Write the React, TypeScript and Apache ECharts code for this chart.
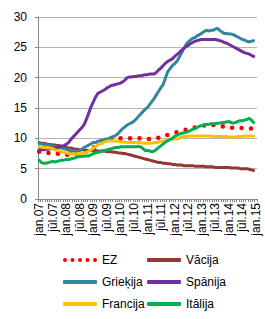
import React, { useEffect, useRef } from "react";
import * as echarts from "echarts";

// Monthly unemployment rates, %, jan.07 – dec.14 (axis runs to jan.15)
const monthNames = ["jan", "feb", "mar", "apr", "mai", "jūn", "jūl", "aug", "sep", "okt", "nov", "dec"];
const years = ["07", "08", "09", "10", "11", "12", "13", "14"];
const lastCategory = "jan.15";
const categories: string[] = [
  ...years.flatMap((y) => monthNames.map((m) => `${m}.${y}`)),
  lastCategory,
];

const yTicks = { min: 0, max: 30, step: 5 };

const ez = [
  7.8, 7.8, 7.7, 7.7, 7.6, 7.6, 7.5, 7.5, 7.5, 7.4, 7.4, 7.4,
  7.3, 7.3, 7.3, 7.3, 7.4, 7.5, 7.5, 7.6, 7.7, 7.8, 8.0, 8.2,
  8.4, 8.7, 9.0, 9.2, 9.4, 9.5, 9.6, 9.7, 9.8, 9.9, 10.0, 10.0,
  10.0, 10.0, 10.0, 10.0, 10.0, 10.0, 10.0, 10.0, 10.0, 10.0, 10.0, 9.9,
  9.9, 9.9, 9.9, 9.9, 10.0, 10.1, 10.2, 10.3, 10.4, 10.6, 10.7, 10.8,
  10.9, 11.0, 11.1, 11.2, 11.3, 11.4, 11.5, 11.6, 11.7, 11.8, 11.9, 12.0,
  12.0, 12.1, 12.2, 12.2, 12.2, 12.2, 12.2, 12.2, 12.1, 12.0, 11.9, 11.9,
  11.8, 11.8, 11.7, 11.7, 11.7, 11.7, 11.7, 11.7, 11.7, 11.7, 11.6, 11.6,
];

const vacija = [
  9.3, 9.2, 9.2, 9.1, 9.0, 9.0, 8.9, 8.9, 8.8, 8.8, 8.7, 8.6,
  8.5, 8.4, 8.4, 8.3, 8.2, 8.2, 8.1, 8.1, 8.1, 8.0, 8.0, 8.0,
  8.0, 8.0, 7.9, 7.9, 7.9, 7.9, 7.8, 7.8, 7.8, 7.7, 7.7, 7.6,
  7.6, 7.5, 7.5, 7.4, 7.3, 7.2, 7.1, 7.0, 6.9, 6.8, 6.7, 6.6,
  6.5, 6.4, 6.3, 6.2, 6.1, 6.0, 6.0, 5.9, 5.9, 5.8, 5.8, 5.7,
  5.7, 5.6, 5.6, 5.6, 5.5, 5.5, 5.5, 5.5, 5.5, 5.4, 5.4, 5.4,
  5.4, 5.4, 5.3, 5.3, 5.3, 5.3, 5.2, 5.2, 5.2, 5.2, 5.2, 5.2,
  5.2, 5.1, 5.1, 5.1, 5.1, 5.0, 5.0, 5.0, 5.0, 4.9, 4.8, 4.7,
];

const griekija = [
  9.2, 9.1, 9.0, 9.0, 8.9, 8.8, 8.7, 8.7, 8.6, 8.5, 8.4, 8.3,
  8.2, 8.1, 7.8, 7.9, 7.9, 7.9, 8.0, 8.2, 8.5, 8.7, 8.9, 9.1,
  9.3, 9.3, 9.5, 9.6, 9.7, 9.8, 9.9, 10.0, 10.2, 10.3, 10.5, 10.8,
  11.2, 11.6, 11.9, 12.2, 12.4, 12.6, 12.8, 13.2, 13.6, 14.0, 14.4, 14.8,
  15.1, 15.6, 16.1, 16.6, 17.2, 17.8, 18.4, 18.9, 20.0, 21.0, 21.5, 22.0,
  22.3, 22.7, 23.3, 24.0, 24.7, 25.4, 25.9, 26.2, 26.5, 26.6, 26.9, 27.1,
  27.3, 27.6, 27.8, 27.7, 27.8, 27.8, 28.0, 28.1, 27.8, 27.5, 27.3, 27.3,
  27.2, 27.2, 27.1, 26.9, 26.7, 26.5, 26.3, 26.2, 26.0, 25.9, 26.0, 26.1,
];

const spanija = [
  8.1, 8.1, 8.1, 8.2, 8.2, 8.3, 8.4, 8.4, 8.5, 8.6, 8.7, 8.8,
  9.0, 9.3, 9.8, 10.2, 10.6, 11.0, 11.4, 11.8, 12.3, 13.2, 14.2, 15.2,
  16.0, 16.8, 17.4, 17.6, 17.8, 18.0, 18.3, 18.5, 18.7, 18.8, 18.9, 19.0,
  19.1, 19.3, 19.6, 20.0, 20.1, 20.1, 20.2, 20.2, 20.3, 20.3, 20.4, 20.5,
  20.5, 20.6, 20.6, 20.6, 20.9, 21.3, 21.6, 22.0, 22.4, 22.7, 22.9, 23.1,
  23.5, 23.8, 24.1, 24.5, 24.8, 25.1, 25.3, 25.6, 25.8, 26.0, 26.1, 26.2,
  26.3, 26.3, 26.3, 26.3, 26.3, 26.3, 26.3, 26.2, 26.1, 26.0, 25.8, 25.7,
  25.5, 25.3, 25.1, 24.9, 24.7, 24.5, 24.3, 24.1, 24.0, 23.9, 23.7, 23.5,
];

const francija = [
  8.6, 8.6, 8.5, 8.5, 8.4, 8.4, 8.3, 8.1, 8.0, 7.9, 7.8, 7.7,
  7.6, 7.5, 7.4, 7.4, 7.4, 7.5, 7.5, 7.6, 7.6, 7.7, 7.9, 8.1,
  8.4, 8.7, 8.9, 9.1, 9.2, 9.4, 9.5, 9.6, 9.6, 9.6, 9.5, 9.5,
  9.4, 9.4, 9.4, 9.3, 9.3, 9.3, 9.3, 9.3, 9.3, 9.3, 9.2, 9.2,
  9.2, 9.2, 9.2, 9.3, 9.3, 9.4, 9.5, 9.5, 9.6, 9.7, 9.8, 9.9,
  9.9, 9.9, 10.0, 10.2, 10.3, 10.3, 10.4, 10.4, 10.4, 10.4, 10.4, 10.4,
  10.4, 10.4, 10.4, 10.4, 10.4, 10.3, 10.3, 10.3, 10.3, 10.3, 10.3, 10.3,
  10.2, 10.2, 10.2, 10.2, 10.3, 10.3, 10.3, 10.4, 10.4, 10.4, 10.4, 10.4,
];

const italija = [
  6.4, 6.0, 5.9, 5.9, 6.0, 6.1, 6.2, 6.1, 6.2, 6.3, 6.4, 6.4,
  6.5, 6.5, 6.6, 6.7, 6.8, 6.9, 7.0, 7.0, 7.1, 7.1, 7.1, 7.3,
  7.5, 7.6, 7.7, 7.8, 7.9, 8.0, 8.1, 8.2, 8.3, 8.4, 8.5, 8.5,
  8.6, 8.6, 8.6, 8.6, 8.6, 8.6, 8.6, 8.6, 8.7, 8.6, 8.3, 8.0,
  8.0, 7.9, 7.8, 7.9, 8.2, 8.5, 8.8, 9.1, 9.4, 9.6, 9.8, 10.0,
  10.3, 10.5, 10.7, 10.8, 10.9, 11.0, 11.1, 11.3, 11.5, 11.6, 11.8, 12.0,
  12.1, 12.2, 12.3, 12.3, 12.4, 12.4, 12.4, 12.5, 12.5, 12.6, 12.6, 12.7,
  12.8, 12.6, 12.5, 12.6, 12.8, 12.9, 12.9, 13.0, 13.1, 13.3, 13.0, 12.6,
];

const FONT = "'Liberation Sans', Arial, sans-serif";

const COLORS = {
  ez: "#FF0000",
  vacija: "#953735",
  griekija: "#31859C",
  spanija: "#7030A0",
  francija: "#FFC000",
  italija: "#00B050",
};

// Legend icon for the dotted EZ line: five small dots in a row
const dotCenters = [2, 9.5, 17, 24.5, 32];
const dotIcon =
  "path://" +
  dotCenters.map((cx) => `M${cx - 2},2 a2,2 0 1,0 4,0 a2,2 0 1,0 -4,0 Z`).join(" ");

export default function App() {
  const ref = useRef<HTMLDivElement>(null);

  useEffect(() => {
    if (!ref.current) return;
    const chart = echarts.init(ref.current, undefined, { renderer: "svg" });

    const solid = (name: string, data: number[], color: string) => ({
      name,
      type: "line" as const,
      data,
      showSymbol: false,
      symbol: "none",
      color,
      lineStyle: { color, width: 3, cap: "round" as const, join: "round" as const },
    });

    const legendText = { fontFamily: FONT, fontSize: 12, color: "#000" };

    chart.setOption({
      animation: false,
      backgroundColor: "#ffffff",
      grid: { left: 38, right: 8, top: 17, height: 182, containLabel: false },
      xAxis: {
        type: "category",
        data: categories,
        boundaryGap: true,
        axisLine: { show: true, lineStyle: { color: "#868686", width: 1 } },
        axisTick: { show: true, interval: 0, length: 3, lineStyle: { color: "#868686" } },
        axisLabel: {
          interval: 5,
          rotate: 90,
          margin: 4,
          fontFamily: FONT,
          fontSize: 12,
          color: "#000",
        },
        splitLine: { show: false },
      },
      yAxis: {
        type: "value",
        min: yTicks.min,
        max: yTicks.max,
        interval: yTicks.step,
        axisLine: { show: true, lineStyle: { color: "#868686", width: 1 } },
        axisTick: { show: true, length: 3, lineStyle: { color: "#868686" } },
        axisLabel: { margin: 11, fontFamily: FONT, fontSize: 12, color: "#000" },
        splitLine: { show: true, lineStyle: { color: "#b4b4b4", width: 1 } },
      },
      legend: [
        {
          orient: "vertical",
          left: 58,
          top: 249,
          itemWidth: 34,
          itemHeight: 4,
          itemGap: 10,
          selectedMode: false,
          textStyle: legendText,
          data: [
            { name: "EZ", icon: dotIcon },
            { name: "Grieķija", icon: "roundRect" },
            { name: "Francija", icon: "roundRect" },
          ],
        },
        {
          orient: "vertical",
          left: 142,
          top: 249,
          itemWidth: 34,
          itemHeight: 4,
          itemGap: 10,
          selectedMode: false,
          textStyle: legendText,
          data: [
            { name: "Vācija", icon: "roundRect" },
            { name: "Spānija", icon: "roundRect" },
            { name: "Itālija", icon: "roundRect" },
          ],
        },
      ],
      series: [
        {
          name: "EZ",
          type: "line",
          data: ez,
          showSymbol: false,
          symbol: "none",
          color: COLORS.ez,
          lineStyle: { color: COLORS.ez, width: 4.6, type: [0, 9.5], cap: "round" },
        },
        solid("Vācija", vacija, COLORS.vacija),
        solid("Grieķija", griekija, COLORS.griekija),
        solid("Spānija", spanija, COLORS.spanija),
        solid("Francija", francija, COLORS.francija),
        solid("Itālija", italija, COLORS.italija),
      ],
    });

    return () => chart.dispose();
  }, []);

  return (
    <div
      ref={ref}
      style={{ position: "fixed", left: 0, top: 0, width: 265, height: 319, background: "#fff" }}
    />
  );
}
